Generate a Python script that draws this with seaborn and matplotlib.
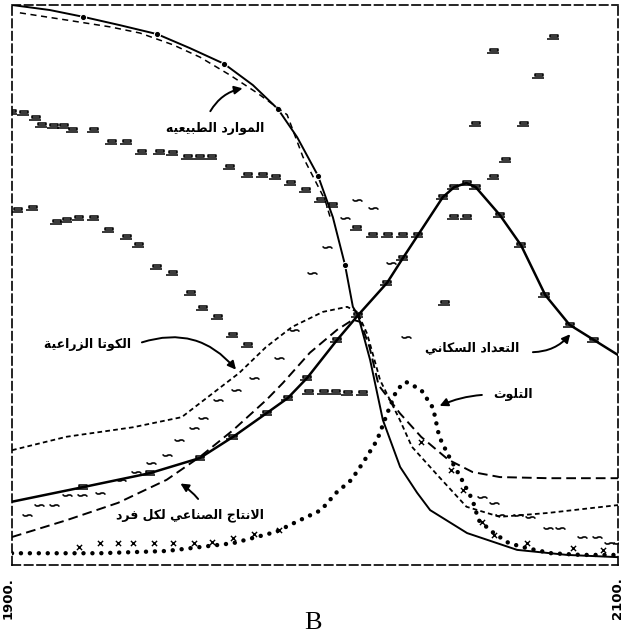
import numpy as np
import pandas as pd
import matplotlib
matplotlib.use("Agg")
import matplotlib.pyplot as plt
from matplotlib.path import Path
import seaborn as sns

# world model run "B" (0 = bottom, 1 = top)

res_years = [1900, 1912.5, 1923.4, 1935.6, 1947.9, 1958.7, 1970, 1979.5, 1987.8, 1994.1, 2001, 2005.9, 2009.9, 2012.5, 2014.2,
             2018.2, 2022.4, 2028.1, 2033.7, 2038, 2050.2, 2066.7, 2083.2, 2100]
res_vals = [1.0, 0.991, 0.979, 0.964, 0.948, 0.923, 0.895, 0.857, 0.814, 0.764, 0.695, 0.621, 0.536, 0.461, 0.446,
            0.366, 0.259, 0.175, 0.129, 0.098, 0.057, 0.027, 0.018, 0.014]
res_dots = [2, 4, 6, 8, 10, 12]

# broken dashes just under the resource curve
res2_years = [1902.6, 1918.2, 1932.3, 1942.2, 1953.1, 1962, 1971.9, 1980.9, 1990.8, 1996, 2003.3, 2005]
res2_vals = [0.986, 0.973, 0.961, 0.950, 0.929, 0.907, 0.875, 0.843, 0.804, 0.729, 0.652, 0.621]

pop_years = [1900, 1923.4, 1945.5, 1962, 1973, 1984, 1991, 1997.4, 2007.3, 2014.2, 2023.8, 2029, 2042.2, 2046, 2050, 2053,
             2061, 2068, 2076, 2084, 2092, 2100]
pop_vals = [0.113, 0.139, 0.164, 0.191, 0.229, 0.271, 0.298, 0.334, 0.402, 0.446, 0.504, 0.548, 0.657, 0.675, 0.682, 0.675,
            0.625, 0.571, 0.482, 0.429, 0.402, 0.375]

ind_years = [1900, 1918, 1935, 1951, 1962, 1973, 1984, 1989.4, 1998.3, 2007.3, 2012.5, 2015, 2018, 2021, 2028, 2035, 2044,
             2052, 2061, 2077, 2100]
ind_vals = [0.050, 0.080, 0.111, 0.152, 0.193, 0.241, 0.295, 0.325, 0.379, 0.420, 0.438, 0.434, 0.389, 0.321, 0.271, 0.229,
            0.188, 0.166, 0.157, 0.155, 0.155]

food_years = [1900, 1918, 1940, 1956, 1975, 1983.8, 1992.4, 2002.6, 2010.6, 2013.9, 2017.2, 2021.5, 2028, 2032, 2041, 2050,
              2061, 2077, 2100]
food_vals = [0.205, 0.229, 0.246, 0.264, 0.343, 0.389, 0.425, 0.452, 0.461, 0.452, 0.413, 0.330, 0.259, 0.211, 0.157, 0.104,
             0.086, 0.093, 0.107]

pol_years = [1900, 1929, 1951, 1973, 1987, 1995, 2002, 2007, 2012, 2016, 2020.5, 2024, 2027, 2030, 2035, 2039, 2041, 2044,
             2048, 2052, 2054, 2059, 2064, 2070, 2078, 2088, 2100]
pol_vals = [0.021, 0.021, 0.025, 0.039, 0.059, 0.080, 0.098, 0.129, 0.152, 0.184, 0.223, 0.273, 0.313, 0.327, 0.313, 0.280,
            0.229, 0.196, 0.157, 0.116, 0.080, 0.057, 0.039, 0.030, 0.021, 0.018, 0.018]

# scattered glyph markers of the other run
box_years = [1900, 1904, 1908, 1910, 1914, 1917, 1920, 1927, 1933, 1938, 1943, 1949, 1953, 1958, 1962, 1966, 1972, 1978, 1983,
             1987, 1992, 1997, 2002, 2006, 2014, 2019, 2024, 2029, 2034, 2046, 2050, 2059, 2063, 2053, 2069, 2074, 2059, 2079,
             2043, 1902, 1907, 1915, 1918, 1922, 1927, 1932, 1938, 1942, 1948, 1953, 1959, 1963, 1968, 1973, 1978,
             1998, 2003, 2007, 2011, 2016]
box_vals = [0.809, 0.807, 0.798, 0.786, 0.784, 0.784, 0.777, 0.777, 0.755, 0.755, 0.738, 0.738, 0.736, 0.729, 0.729, 0.729,
            0.711, 0.696, 0.696, 0.693, 0.682, 0.670, 0.652, 0.643, 0.602, 0.589, 0.589, 0.589, 0.589, 0.621, 0.621, 0.693,
            0.723, 0.788, 0.788, 0.873, 0.918, 0.943, 0.468, 0.634, 0.638, 0.613, 0.616, 0.620, 0.620, 0.598, 0.586, 0.571,
            0.532, 0.521, 0.486, 0.459, 0.443, 0.411, 0.393, 0.309, 0.309, 0.309, 0.307, 0.307]

s_years = [1905, 1909, 1914, 1918, 1923, 1929, 1936, 1941, 1946, 1951, 1955, 1960, 1963, 1968, 1974, 1980, 1988, 1993, 1999,
           2004, 2010, 2014, 2019, 2025, 2030, 2055, 2059, 2061, 2067, 2071, 2077, 2081, 2088, 2093, 2097, 2100]
s_vals = [0.089, 0.107, 0.107, 0.125, 0.125, 0.129, 0.152, 0.166, 0.182, 0.196, 0.223, 0.245, 0.263, 0.295, 0.313, 0.334,
          0.370, 0.420, 0.521, 0.568, 0.620, 0.652, 0.638, 0.539, 0.407, 0.121, 0.111, 0.089, 0.089, 0.086, 0.066, 0.066,
          0.050, 0.050, 0.039, 0.039]

x_years = [1922, 1929, 1935, 1940, 1947, 1953, 1960, 1966, 1973, 1980, 1988, 2035, 2045, 2049, 2055, 2059, 2070, 2085, 2095]
x_vals = [0.032, 0.039, 0.039, 0.039, 0.039, 0.039, 0.039, 0.041, 0.048, 0.055, 0.063, 0.220, 0.170, 0.134, 0.077, 0.054,
          0.039, 0.030, 0.027]

labels = {
    "res": "الموارد الطبيعيه",
    "food": "الكوتا الزراعية",
    "ind": "الانتاج الصناعي لكل فرد",
    "pol": "التلوث",
    "pop": "التعداد السكاني",
}

# matplotlib has no arabic shaping, so pick presentation forms by hand
FORMS = {
    'ا': ('\ufe8d', '\ufe8e', None, None),
    'ب': ('\ufe8f', '\ufe90', '\ufe91', '\ufe92'),
    'ة': ('\ufe93', '\ufe94', None, None),
    'ت': ('\ufe95', '\ufe96', '\ufe97', '\ufe98'),
    'ث': ('\ufe99', '\ufe9a', '\ufe9b', '\ufe9c'),
    'ج': ('\ufe9d', '\ufe9e', '\ufe9f', '\ufea0'),
    'د': ('\ufea9', '\ufeaa', None, None),
    'ر': ('\ufead', '\ufeae', None, None),
    'ز': ('\ufeaf', '\ufeb0', None, None),
    'س': ('\ufeb1', '\ufeb2', '\ufeb3', '\ufeb4'),
    'ص': ('\ufeb9', '\ufeba', '\ufebb', '\ufebc'),
    'ط': ('\ufec1', '\ufec2', '\ufec3', '\ufec4'),
    'ع': ('\ufec9', '\ufeca', '\ufecb', '\ufecc'),
    'ف': ('\ufed1', '\ufed2', '\ufed3', '\ufed4'),
    'ك': ('\ufed9', '\ufeda', '\ufedb', '\ufedc'),
    'ل': ('\ufedd', '\ufede', '\ufedf', '\ufee0'),
    'م': ('\ufee1', '\ufee2', '\ufee3', '\ufee4'),
    'ن': ('\ufee5', '\ufee6', '\ufee7', '\ufee8'),
    'ه': ('\ufee9', '\ufeea', '\ufeeb', '\ufeec'),
    'و': ('\ufeed', '\ufeee', None, None),
    'ي': ('\ufef1', '\ufef2', '\ufef3', '\ufef4'),
    'LA': ('\ufefb', '\ufefc', None, None),
}


def shape(text):
    words = []
    for w in text.split(' '):
        chars = []
        i = 0
        while i < len(w):
            if w[i] == 'ل' and i + 1 < len(w) and w[i + 1] == 'ا':
                chars.append('LA')
                i += 2
            else:
                chars.append(w[i])
                i += 1
        out = ''
        for k, c in enumerate(chars):
            f = FORMS[c]
            jp = k > 0 and FORMS[chars[k - 1]][2] is not None
            jn = k + 1 < len(chars) and f[2] is not None
            if jp and jn:
                out += f[3]
            elif jp:
                out += f[1]
            elif jn:
                out += f[2]
            else:
                out += f[0]
        words.append(out)
    return ' '.join(words)[::-1]


sns.set_style("white")
plt.rcParams['font.family'] = ['DejaVu Sans']
plt.rcParams['text.color'] = 'black'

fig = plt.figure(figsize=(6.26, 6.37), dpi=100)
ax = fig.add_axes([12 / 626, 1 - 565 / 637, 606 / 626, 560 / 637])

# resources: solid with dots
sns.lineplot(x=res_years, y=res_vals, ax=ax, color='black', lw=1.4)
ln = ax.lines[-1]
ln.set_marker('o')
ln.set_markersize(4.5)
ln.set_markevery(res_dots)

sns.lineplot(x=res2_years, y=res2_vals, ax=ax, color='black', lw=1.1)
ax.lines[-1].set_dashes((4, 3))

# population: heavier solid
sns.lineplot(x=pop_years, y=pop_vals, ax=ax, color='black', lw=1.8)

# industrial output per capita: long dashes
sns.lineplot(x=ind_years, y=ind_vals, ax=ax, color='black', lw=1.4)
ax.lines[-1].set_dashes((5, 2.6))

# food per capita: short dashes
sns.lineplot(x=food_years, y=food_vals, ax=ax, color='black', lw=1.3)
ax.lines[-1].set_dashes((2.6, 1.8))

# pollution: dotted
sns.lineplot(x=pol_years, y=pol_vals, ax=ax, color='black', lw=3.2)
ln = ax.lines[-1]
ln.set_dashes((0.01, 2.0))
ln.set_dash_capstyle('round')

box = Path([(-0.6, -0.05), (0.6, -0.05), (0.6, 0.35), (-0.6, 0.35), (-0.6, -0.05),
            (-1.0, -0.3), (0.8, -0.3)],
           [Path.MOVETO, Path.LINETO, Path.LINETO, Path.LINETO, Path.CLOSEPOLY,
            Path.MOVETO, Path.LINETO])
sns.scatterplot(x=box_years, y=box_vals, ax=ax, marker=box, s=90,
                facecolor='white', edgecolor='black', linewidth=1.1)
sns.scatterplot(x=pop_years[1:-1], y=pop_vals[1:-1], ax=ax, marker=box, s=90,
                facecolor='white', edgecolor='black', linewidth=1.1)
sns.scatterplot(x=s_years, y=s_vals, ax=ax, marker='$\u223d$', s=45,
                facecolor='black', edgecolor='black', linewidth=0.4)
sns.scatterplot(x=x_years, y=x_vals, ax=ax, marker='x', s=14,
                color='black', linewidth=1.0)

ax.set_xlim(1900, 2100)
ax.set_ylim(0, 1)
ax.set_xticks([])
ax.set_yticks([])
ax.set_xlabel('')
ax.set_ylabel('')
for sp in ax.spines.values():
    sp.set_visible(True)
    sp.set_color('black')
    sp.set_linewidth(1.2)
    sp.set_linestyle((0, (5, 2.5)))

arrow = dict(arrowstyle='-|>', color='black', lw=1.4, mutation_scale=12)
tkw = dict(fontsize=9, fontweight='bold', ha='center', va='center', color='black')

ax.annotate('', xy=(1977, 0.852), xytext=(1965, 0.806),
            arrowprops=dict(arrow, connectionstyle='arc3,rad=-0.25'))
ax.text(1967, 0.780, shape(labels['res']), **tkw)

ax.annotate('', xy=(1974.5, 0.345), xytext=(1942, 0.396),
            arrowprops=dict(arrow, connectionstyle='arc3,rad=-0.35'))
ax.text(1925, 0.393, shape(labels['food']), **tkw)

ax.annotate('', xy=(1954.8, 0.148), xytext=(1962, 0.114),
            arrowprops=dict(arrow, connectionstyle='arc3,rad=0.1'))
ax.text(1958.7, 0.089, shape(labels['ind']), **tkw)

ax.annotate('', xy=(2040.3, 0.282), xytext=(2056, 0.304),
            arrowprops=dict(arrow, connectionstyle='arc3,rad=0.1'))
ax.text(2065.3, 0.304, shape(labels['pol']), **tkw)

ax.annotate('', xy=(2084.8, 0.416), xytext=(2071, 0.380),
            arrowprops=dict(arrow, connectionstyle='arc3,rad=0.25'))
ax.text(2051.8, 0.388, shape(labels['pop']), **tkw)

fig.text(8 / 626, 1 - 598 / 637, '1900.', rotation=90, fontsize=9.5,
         fontweight='bold', ha='center', va='center', color='black')
fig.text(617 / 626, 1 - 598 / 637, '2100.', rotation=90, fontsize=9.5,
         fontweight='bold', ha='center', va='center', color='black')
fig.text(0.5, 1 - 623 / 637, 'B', fontsize=19, family='Liberation Serif',
         ha='center', va='center', color='black')

fig.savefig('out.png', dpi=100)
